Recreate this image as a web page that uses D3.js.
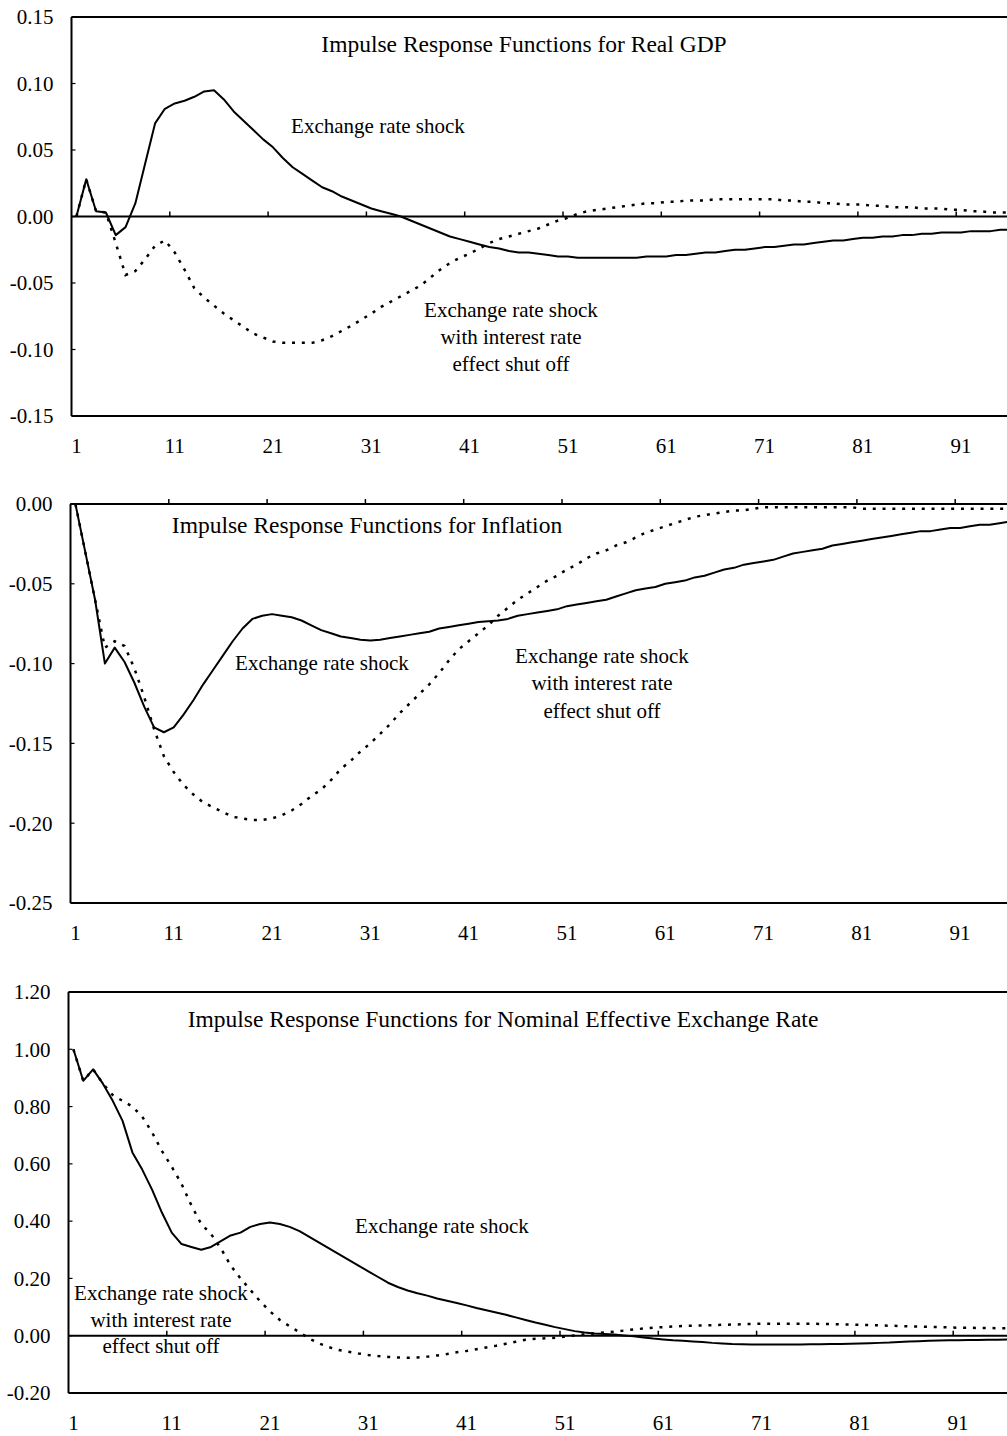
<!DOCTYPE html>
<html><head><meta charset="utf-8">
<script src="https://cdn.jsdelivr.net/npm/d3@7"></script>
<style>
body{margin:0;background:#fff}
svg{display:block}
text{font-family:"Liberation Serif","Times New Roman",serif;fill:#000}
</style>
</head><body>
<svg id="chart" width="1007" height="1436"></svg>
<script>
// ---------- DATA ----------
const periods = d3.range(1, 101);
const xTickLabels = ["1","11","21","31","41","51","61","71","81","91"];

const gdpTicks  = [-0.15,-0.10,-0.05,0.00,0.05,0.10,0.15];
const inflTicks = [-0.25,-0.20,-0.15,-0.10,-0.05,0.00];
const neerTicks = [-0.20,0.00,0.20,0.40,0.60,0.80,1.00,1.20];

const gdpShock = [0,0.028,0.004,0.003,-0.014,-0.008,0.010,0.040,0.070,0.081,
 0.085,0.087,0.090,0.094,0.095,0.088,0.079,0.072,0.065,0.058,
 0.052,0.044,0.037,0.032,0.027,0.022,0.019,0.015,0.012,0.009,
 0.006,0.004,0.002,0.000,-0.003,-0.006,-0.009,-0.012,-0.015,-0.017,
 -0.019,-0.021,-0.023,-0.024,-0.026,-0.027,-0.027,-0.028,-0.029,-0.030,
 -0.030,-0.031,-0.031,-0.031,-0.031,-0.031,-0.031,-0.031,-0.030,-0.030,
 -0.030,-0.029,-0.029,-0.028,-0.027,-0.027,-0.026,-0.025,-0.025,-0.024,
 -0.023,-0.023,-0.022,-0.021,-0.021,-0.020,-0.019,-0.018,-0.018,-0.017,
 -0.016,-0.016,-0.015,-0.015,-0.014,-0.014,-0.013,-0.013,-0.012,-0.012,
 -0.012,-0.011,-0.011,-0.011,-0.010,-0.010,-0.010,-0.009,-0.009,-0.009];

const gdpShut = [0,0.028,0.004,0.003,-0.020,-0.044,-0.041,-0.032,-0.022,-0.018,
 -0.027,-0.040,-0.054,-0.061,-0.067,-0.073,-0.078,-0.083,-0.088,-0.091,
 -0.094,-0.095,-0.095,-0.095,-0.095,-0.093,-0.090,-0.086,-0.082,-0.0775,
 -0.073,-0.068,-0.064,-0.060,-0.056,-0.052,-0.046,-0.040,-0.035,-0.031,
 -0.028,-0.024,-0.020,-0.017,-0.015,-0.013,-0.011,-0.009,-0.006,-0.003,
 -0.001,0.002,0.004,0.005,0.006,0.007,0.008,0.009,0.010,0.010,
 0.011,0.011,0.012,0.012,0.012,0.013,0.013,0.013,0.013,0.013,
 0.013,0.013,0.012,0.012,0.011,0.011,0.010,0.010,0.009,0.009,
 0.009,0.008,0.008,0.007,0.007,0.007,0.006,0.006,0.006,0.005,
 0.005,0.004,0.004,0.003,0.003,0.003,0.002,0.002,0.002,0.002];

const inflShock = [0,-0.030,-0.060,-0.100,-0.090,-0.099,-0.112,-0.127,-0.140,-0.143,
 -0.140,-0.132,-0.123,-0.113,-0.104,-0.095,-0.086,-0.078,-0.072,-0.070,
 -0.069,-0.070,-0.071,-0.073,-0.076,-0.079,-0.081,-0.083,-0.084,-0.085,
 -0.0855,-0.085,-0.084,-0.083,-0.082,-0.081,-0.080,-0.078,-0.077,-0.076,
 -0.075,-0.074,-0.0735,-0.073,-0.072,-0.070,-0.069,-0.068,-0.067,-0.066,
 -0.064,-0.063,-0.062,-0.061,-0.060,-0.058,-0.056,-0.054,-0.053,-0.052,
 -0.050,-0.049,-0.048,-0.046,-0.045,-0.043,-0.041,-0.040,-0.038,-0.037,
 -0.036,-0.035,-0.033,-0.031,-0.030,-0.029,-0.028,-0.026,-0.025,-0.024,
 -0.023,-0.022,-0.021,-0.020,-0.019,-0.018,-0.017,-0.017,-0.016,-0.015,
 -0.015,-0.014,-0.013,-0.013,-0.012,-0.011,-0.011,-0.010,-0.010,-0.009];

const inflShut = [0,-0.030,-0.060,-0.090,-0.086,-0.089,-0.103,-0.121,-0.141,-0.158,
 -0.168,-0.176,-0.182,-0.187,-0.190,-0.193,-0.196,-0.197,-0.198,-0.198,
 -0.197,-0.195,-0.192,-0.188,-0.183,-0.179,-0.173,-0.166,-0.161,-0.155,
 -0.150,-0.144,-0.138,-0.131,-0.125,-0.119,-0.113,-0.106,-0.098,-0.091,
 -0.086,-0.081,-0.076,-0.070,-0.065,-0.060,-0.056,-0.052,-0.048,-0.045,
 -0.041,-0.038,-0.034,-0.031,-0.029,-0.026,-0.024,-0.021,-0.018,-0.016,
 -0.014,-0.012,-0.010,-0.008,-0.007,-0.006,-0.005,-0.004,-0.004,-0.003,
 -0.002,-0.002,-0.002,-0.002,-0.002,-0.002,-0.002,-0.002,-0.002,-0.002,
 -0.003,-0.003,-0.003,-0.003,-0.003,-0.003,-0.003,-0.003,-0.003,-0.003,
 -0.003,-0.003,-0.003,-0.003,-0.003,-0.003,-0.003,-0.003,-0.003,-0.003];

const neerShock = [1.00,0.89,0.93,0.88,0.82,0.75,0.64,0.58,0.51,0.43,
 0.36,0.32,0.31,0.30,0.31,0.33,0.35,0.36,0.38,0.39,
 0.395,0.39,0.38,0.365,0.345,0.325,0.305,0.285,0.265,0.245,
 0.225,0.205,0.185,0.170,0.158,0.148,0.140,0.130,0.122,0.114,
 0.106,0.097,0.089,0.081,0.073,0.064,0.055,0.046,0.038,0.030,
 0.023,0.016,0.011,0.008,0.006,0.004,0.001,-0.002,-0.006,-0.010,
 -0.013,-0.016,-0.018,-0.020,-0.022,-0.025,-0.027,-0.029,-0.030,-0.031,
 -0.031,-0.031,-0.031,-0.031,-0.031,-0.030,-0.030,-0.029,-0.029,-0.028,
 -0.027,-0.026,-0.025,-0.024,-0.022,-0.020,-0.019,-0.018,-0.017,-0.016,
 -0.016,-0.015,-0.015,-0.014,-0.014,-0.013,-0.013,-0.012,-0.012,-0.011];

const neerShut = [1.00,0.89,0.93,0.88,0.84,0.82,0.80,0.765,0.71,0.645,
 0.59,0.53,0.455,0.39,0.355,0.305,0.245,0.20,0.16,0.12,
 0.085,0.055,0.033,0.012,-0.010,-0.027,-0.040,-0.050,-0.056,-0.062,
 -0.067,-0.071,-0.074,-0.076,-0.077,-0.076,-0.073,-0.069,-0.064,-0.058,
 -0.053,-0.047,-0.041,-0.035,-0.028,-0.021,-0.014,-0.011,-0.009,-0.007,
 -0.003,0.001,0.005,0.008,0.011,0.014,0.018,0.022,0.025,0.028,
 0.030,0.032,0.034,0.035,0.036,0.037,0.038,0.039,0.040,0.041,
 0.042,0.042,0.042,0.042,0.042,0.042,0.041,0.041,0.040,0.039,
 0.038,0.037,0.036,0.035,0.034,0.033,0.032,0.031,0.030,0.029,
 0.028,0.028,0.027,0.027,0.026,0.026,0.025,0.025,0.024,0.024];

const titles = [
  "Impulse Response Functions for Real GDP",
  "Impulse Response Functions for Inflation",
  "Impulse Response Functions for Nominal Effective Exchange Rate"
];
const shockLabel = "Exchange rate shock";
const shutLabel = ["Exchange rate shock","with interest rate","effect shut off"];

// ---------- LAYOUT ----------
const svg = d3.select("#chart");
const W = 1007;
const step = 9.83;

const panels = [
  {shock:gdpShock, shut:gdpShut, ticks:gdpTicks, domain:[-0.15,0.15], left:71.5, top:17, bottom:416,
   title:{x:524,y:52}, shockPos:{x:378,y:133}, shutPos:{x:511,ys:[317,344,371]}},
  {shock:inflShock, shut:inflShut, ticks:inflTicks, domain:[-0.25,0], left:70.5, top:504, bottom:903,
   title:{x:367,y:533}, shockPos:{x:322,y:670}, shutPos:{x:602,ys:[663,690,718]}},
  {shock:neerShock, shut:neerShut, ticks:neerTicks, domain:[-0.2,1.2], left:68.5, top:992, bottom:1393,
   title:{x:503,y:1027}, shockPos:{x:442,y:1233}, shutPos:{x:161,ys:[1300,1327,1353]}}
];

panels.forEach((p, i) => {
  const g = svg.append("g");
  const x = d3.scaleLinear().domain([0.5, 100.5]).range([p.left, p.left + 100*step]);
  const y = d3.scaleLinear().domain(p.domain).range([p.bottom, p.top]);

  // frame: left, top, bottom
  g.append("line").attr("x1", p.left).attr("x2", p.left).attr("y1", p.top).attr("y2", p.bottom)
    .attr("stroke","#000").attr("stroke-width",2);
  g.append("line").attr("x1", p.left).attr("x2", W).attr("y1", p.top).attr("y2", p.top)
    .attr("stroke","#000").attr("stroke-width",2);
  g.append("line").attr("x1", p.left).attr("x2", W).attr("y1", p.bottom).attr("y2", p.bottom)
    .attr("stroke","#000").attr("stroke-width",2);
  // zero line
  g.append("line").attr("x1", p.left).attr("x2", W).attr("y1", y(0)).attr("y2", y(0))
    .attr("stroke","#000").attr("stroke-width",2);

  // y ticks + labels
  p.ticks.forEach(t => {
    g.append("line").attr("x1", p.left).attr("x2", p.left+4).attr("y1", y(t)).attr("y2", y(t))
      .attr("stroke","#000").attr("stroke-width",1.2);
    g.append("text").attr("x", p.left - 18).attr("y", y(t)).attr("dy","0.35em")
      .attr("text-anchor","end").attr("font-size",21)
      .text(t.toFixed(2));
  });

  // x ticks (category boundaries) on the zero line, pointing up
  d3.range(10.5, 100, 10).forEach(b => {
    g.append("line").attr("x1", x(b)).attr("x2", x(b)).attr("y1", y(0)).attr("y2", y(0)-5)
      .attr("stroke","#000").attr("stroke-width",1.5);
  });
  // x labels
  xTickLabels.forEach(l => {
    g.append("text").attr("x", x(+l)).attr("y", p.bottom + 37)
      .attr("text-anchor","middle").attr("font-size",21).text(l);
  });

  const line = d3.line().x((d, k) => x(periods[k])).y(d => y(d));

  g.append("path").datum(p.shut).attr("d", line).attr("fill","none")
    .attr("stroke","#000").attr("stroke-width",2.5).attr("stroke-dasharray","3,6.8");
  g.append("path").datum(p.shock).attr("d", line).attr("fill","none")
    .attr("stroke","#000").attr("stroke-width",2).attr("stroke-linejoin","round");

  // texts
  g.append("text").attr("x", p.title.x).attr("y", p.title.y).attr("text-anchor","middle")
    .attr("font-size",23.5).text(titles[i]);
  g.append("text").attr("x", p.shockPos.x).attr("y", p.shockPos.y).attr("text-anchor","middle")
    .attr("font-size",21).text(shockLabel);
  shutLabel.forEach((s, k) => {
    g.append("text").attr("x", p.shutPos.x).attr("y", p.shutPos.ys[k]).attr("text-anchor","middle")
      .attr("font-size",21).text(s);
  });
});
</script>
</body></html>
